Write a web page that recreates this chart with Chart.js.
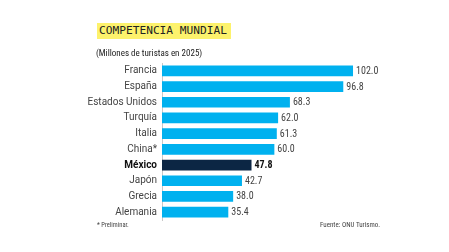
<!DOCTYPE html>
<html><head><meta charset="utf-8">
<script src="https://cdn.jsdelivr.net/npm/chart.js@4/dist/chart.umd.min.js"></script>
<style>
html,body{margin:0;padding:0;background:#fff;}
#wrap{position:relative;width:449px;height:252px;overflow:hidden;}
canvas{position:absolute;left:0;top:0;}
.t{position:absolute;white-space:nowrap;font-family:Roboto,sans-serif;font-stretch:condensed;}
#title{left:97px;top:23px;height:16px;width:134px;background:#fdf26c;font:11.2px "DejaVu Sans Mono","Liberation Mono",monospace;font-stretch:normal;color:#222;line-height:16px;padding-left:2px;box-sizing:border-box;}
#sub{left:96px;top:47.5px;font-size:9px;color:#222;}
#note{left:97px;top:221px;font-size:6.5px;color:#444;}
#src{left:320px;top:221px;font-size:7px;color:#444;}
</style></head>
<body><div id="wrap">
<canvas id="c" width="449" height="252"></canvas>
<div class="t" id="title">COMPETENCIA MUNDIAL</div>
<div class="t" id="sub">(Millones de turistas en 2025)</div>
<div class="t" id="note">* Preliminar.</div>
<div class="t" id="src">Fuente: ONU Turismo.</div>
</div>
<script>
const categories = ["Francia","España","Estados Unidos","Turquía","Italia","China*","México","Japón","Grecia","Alemania"];
const values = [102.0,96.8,68.3,62.0,61.3,60.0,47.8,42.7,38.0,35.4];
const highlight = "México";

const LIGHT = "#00b1ef", DARK = "#0c2644";
const FONT = 'Roboto,sans-serif';

const valueLabels = {
  id:'valueLabels',
  afterDatasetsDraw(chart){
    const ctx = chart.ctx;
    const meta = chart.getDatasetMeta(0);
    ctx.save();
    ctx.textBaseline='middle';
    ctx.textAlign='left';
    meta.data.forEach((bar,i)=>{
      const hi = categories[i]===highlight;
      ctx.font = (hi?'bold ':'')+'10px '+FONT;
      ctx.fontStretch = 'condensed';
      ctx.fillStyle = hi ? '#111' : '#444';
      ctx.fillText(values[i].toFixed(1), bar.x+3, bar.y+0.5);
    });
    ctx.restore();
  }
};

new Chart(document.getElementById('c'),{
  type:'bar',
  data:{labels:categories,datasets:[{
    data:values,
    backgroundColor:categories.map(c=>c===highlight?DARK:LIGHT),
    barPercentage:0.68,categoryPercentage:1.0,borderWidth:0
  }]},
  options:{
    indexAxis:'y',responsive:false,animation:false,
    layout:{padding:{top:63,bottom:32,left:0,right:81}},
    plugins:{legend:{display:false},tooltip:{enabled:false},title:{display:false}},
    scales:{
      x:{min:0,max:110,display:false},
      y:{
        afterFit(s){s.width=162;},
        grid:{display:false,drawTicks:false},
        border:{display:true,color:'#c8c8c8',width:1},
        ticks:{padding:5,color:(c)=>categories[c.index]===highlight?'#111':'#444',
          font:(c)=>({family:FONT,size:10,style:'condensed',weight:categories[c.index]===highlight?'bold':'normal'})}
      }
    }
  },
  plugins:[valueLabels]
});
</script>
</body></html>
